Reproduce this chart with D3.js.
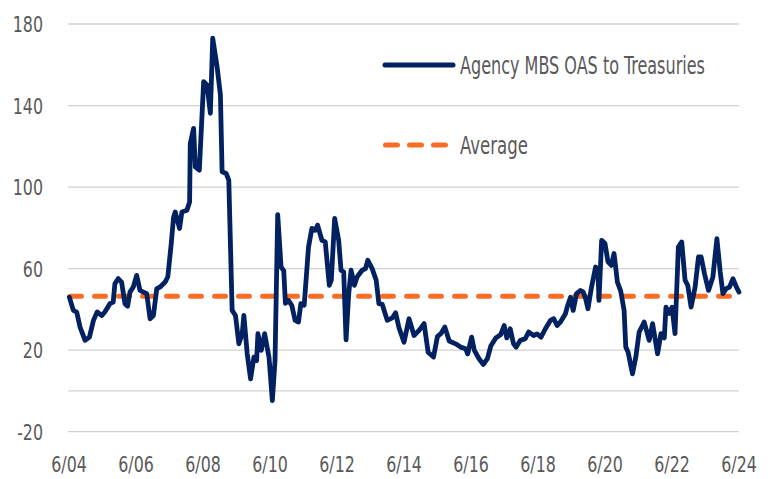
<!doctype html>
<html>
<head>
    <meta charset="utf-8"/>
    <style>
        html, body {
            margin: 0;
            padding: 0;
            background: #ffffff;
        }
        svg text {
            font-family: "Liberation Sans Narrow", "Arial Narrow", "DejaVu Sans Condensed", sans-serif;
            fill: #595959;
        }
    </style>
    <script src="https://d3js.org/d3.v7.min.js"></script>
</head>
<body>

<svg id="chart" width="770" height="479"></svg>

<script>

    // Agency MBS OAS to Treasuries (bp), sampled at the turning points of the line
    var years = [
        2004.51, 2004.63, 2004.73, 2004.83, 2004.98, 2005.11, 2005.23, 2005.34, 2005.48, 2005.57,
        2005.72, 2005.82, 2005.87, 2005.97, 2006.07, 2006.17, 2006.25, 2006.32, 2006.42, 2006.52,
        2006.62, 2006.72, 2006.82, 2006.92, 2007.02, 2007.12, 2007.22, 2007.37, 2007.45, 2007.55,
        2007.62, 2007.67, 2007.80, 2007.87, 2008.02, 2008.10, 2008.12, 2008.22, 2008.27, 2008.39,
        2008.52, 2008.62, 2008.72, 2008.79, 2008.92, 2009.02, 2009.07, 2009.19, 2009.27, 2009.37,
        2009.47, 2009.57, 2009.67, 2009.72, 2009.82, 2009.92, 2010.02, 2010.10, 2010.14, 2010.24,
        2010.34, 2010.47, 2010.57, 2010.65, 2010.73, 2010.83, 2010.91, 2010.96, 2011.05, 2011.15,
        2011.25, 2011.35, 2011.42, 2011.52, 2011.65, 2011.75, 2011.85, 2011.92, 2012.05, 2012.15,
        2012.27, 2012.33, 2012.43, 2012.55, 2012.62, 2012.70, 2012.77, 2012.85, 2012.92, 2013.02,
        2013.10, 2013.25, 2013.35, 2013.42, 2013.55, 2013.67, 2013.75, 2013.85, 2014.00, 2014.15,
        2014.25, 2014.35, 2014.50, 2014.65, 2014.80, 2014.95, 2015.10, 2015.22, 2015.38, 2015.50,
        2015.60, 2015.72, 2015.85, 2016.04, 2016.19, 2016.34, 2016.40, 2016.52, 2016.60, 2016.74,
        2016.87, 2016.99, 2017.09, 2017.24, 2017.39, 2017.49, 2017.57, 2017.67, 2017.77, 2017.85,
        2017.97, 2018.12, 2018.22, 2018.37, 2018.47, 2018.59, 2018.72, 2018.87, 2018.97, 2019.07,
        2019.17, 2019.32, 2019.37, 2019.47, 2019.55, 2019.65, 2019.77, 2019.85, 2019.92, 2019.99,
        2020.09, 2020.22, 2020.29, 2020.32, 2020.40, 2020.50, 2020.59, 2020.69, 2020.77, 2020.87,
        2020.97, 2021.07, 2021.12, 2021.19, 2021.32, 2021.42, 2021.52, 2021.67, 2021.82, 2021.92,
        2022.07, 2022.17, 2022.27, 2022.32, 2022.42, 2022.50, 2022.59, 2022.69, 2022.79, 2022.89,
        2022.97, 2023.07, 2023.19, 2023.29, 2023.37, 2023.47, 2023.59, 2023.72, 2023.84, 2023.94,
        2024.02, 2024.12, 2024.22, 2024.32, 2024.42, 2024.50
    ];
    var oas = [
        46.0, 39.5, 38.7, 31.3, 24.8, 26.4, 34.6, 38.7, 37.0, 38.7,
        42.8, 43.6, 52.6, 55.1, 53.4, 42.8, 41.6, 48.5, 51.0, 56.7,
        49.3, 48.5, 47.7, 35.4, 37.0, 50.2, 51.0, 53.4, 56.0, 72.0,
        85.0, 87.8, 79.7, 87.8, 88.6, 92.7, 121.4, 128.8, 109.9, 108.3,
        151.7, 150.1, 136.2, 173.0, 159.1, 145.2, 107.5, 106.7, 103.4, 39.5,
        37.0, 23.1, 28.1, 37.0, 18.2, 5.9, 16.6, 14.9, 28.1, 19.9,
        28.1, 16.6, -4.7, 14.9, 86.5, 60.8, 59.0, 43.0, 44.4, 42.0,
        34.6, 33.8, 42.8, 42.0, 70.6, 79.7, 78.8, 81.3, 73.9, 73.1,
        51.8, 54.3, 84.6, 73.9, 59.2, 58.3, 25.1, 47.7, 59.2, 51.8,
        55.9, 59.2, 60.0, 64.1, 60.0, 54.3, 42.8, 42.5, 34.6, 35.8,
        38.3, 31.0, 23.9, 35.4, 27.2, 29.7, 33.0, 19.0, 16.6, 26.8,
        28.1, 31.3, 24.5, 23.1, 21.5, 20.7, 18.2, 26.4, 19.9, 15.8,
        13.0, 15.8, 22.0, 26.0, 27.7, 32.1, 26.0, 30.5, 23.1, 21.5,
        24.8, 25.6, 28.9, 27.2, 28.0, 26.4, 30.5, 34.6, 35.4, 32.1,
        33.8, 37.9, 41.1, 46.0, 39.5, 47.7, 49.3, 48.5, 45.3, 40.3,
        50.2, 60.8, 59.0, 44.4, 73.9, 72.3, 63.3, 61.6, 67.4, 53.4,
        49.0, 39.5, 21.5, 19.0, 8.4, 16.6, 28.9, 33.8, 24.8, 33.0,
        18.2, 28.1, 26.0, 41.1, 38.0, 41.1, 28.1, 70.6, 73.1, 54.3,
        51.8, 41.1, 51.0, 65.7, 65.7, 57.5, 49.3, 55.9, 74.7, 58.3,
        47.7, 50.2, 51.0, 55.1, 51.0, 48.5
    ];
    var average = 46.5;

    var yTicks = [-20, 20, 60, 100, 140, 180];
    var xTicks = [2004.5, 2006.5, 2008.5, 2010.5, 2012.5, 2014.5, 2016.5, 2018.5, 2020.5, 2022.5, 2024.5];
    var xTickLabels = ["6/04", "6/06", "6/08", "6/10", "6/12", "6/14", "6/16", "6/18", "6/20", "6/22", "6/24"];
    var legendLabels = ["Agency MBS OAS to Treasuries", "Average"];

    var navy = "#022161";
    var orange = "#fb6c24";
    var gridColor = "#d2d2d2";

    var svg = d3.select("#chart");

    var left = 68, right = 739;
    var x = d3.scaleLinear().domain([2004.5, 2024.5]).range([69, 739]);
    var y = d3.scaleLinear().domain([-20, 180]).range([431.7, 24]);

    // the reference uses a condensed face; squeeze our text sideways to match
    function narrowText(parent, px, py, str, size, anchor, sx) {
        return parent.append("g")
            .attr("transform", "translate(" + px + "," + py + ") scale(" + sx + ",1)")
            .append("text")
            .attr("text-anchor", anchor)
            .attr("font-size", size)
            .text(str);
    }

    // gridlines at labelled values
    svg.append("g")
        .selectAll("line")
        .data(yTicks)
        .enter()
        .append("line")
        .attr("x1", left)
        .attr("x2", right)
        .attr("y1", function(d) { return y(d); })
        .attr("y2", function(d) { return y(d); })
        .attr("stroke", gridColor)
        .attr("stroke-width", 1.3);

    // category axis crosses at zero
    svg.append("line")
        .attr("x1", left)
        .attr("x2", right)
        .attr("y1", y(0))
        .attr("y2", y(0))
        .attr("stroke", gridColor)
        .attr("stroke-width", 1.3);

    // y labels
    var yLab = svg.append("g");
    yTicks.forEach(function(d) {
        narrowText(yLab, 43, y(d) + 8, d, 22, "end", 0.8);
    });

    // x labels
    var xLab = svg.append("g");
    xTicks.forEach(function(d, i) {
        narrowText(xLab, x(d), 472, xTickLabels[i], 22, "middle", 0.8);
    });

    // average line
    svg.append("line")
        .attr("x1", left + 2.5)
        .attr("x2", right)
        .attr("y1", y(average))
        .attr("y2", y(average))
        .attr("stroke", orange)
        .attr("stroke-width", 5)
        .attr("stroke-linecap", "round")
        .attr("stroke-dasharray", "11,13");

    // spread line
    var line = d3.line()
        .x(function(d) { return x(d[0]); })
        .y(function(d) { return y(d[1]); });

    svg.append("path")
        .datum(d3.zip(years, oas))
        .attr("d", line)
        .attr("fill", "none")
        .attr("stroke", navy)
        .attr("stroke-width", 4.8)
        .attr("stroke-linejoin", "round")
        .attr("stroke-linecap", "round");

    // legend
    var legend = svg.append("g");
    legend.append("line")
        .attr("x1", 385).attr("x2", 453)
        .attr("y1", 65).attr("y2", 65)
        .attr("stroke", navy)
        .attr("stroke-width", 5)
        .attr("stroke-linecap", "round");

    legend.append("line")
        .attr("x1", 385.5).attr("x2", 448)
        .attr("y1", 145).attr("y2", 145)
        .attr("stroke", orange)
        .attr("stroke-width", 5)
        .attr("stroke-linecap", "round")
        .attr("stroke-dasharray", "12,12");

    var legendWidths = [245, 68];
    legendLabels.forEach(function(label, i) {
        var t = narrowText(legend, 460, 74 + i * 80, label, 25, "start", 1);
        var w = t.node().getComputedTextLength();
        d3.select(t.node().parentNode)
            .attr("transform", "translate(460," + (74 + i * 80) + ") scale(" + (legendWidths[i] / w) + ",1)");
    });

</script>

</body>
</html>
